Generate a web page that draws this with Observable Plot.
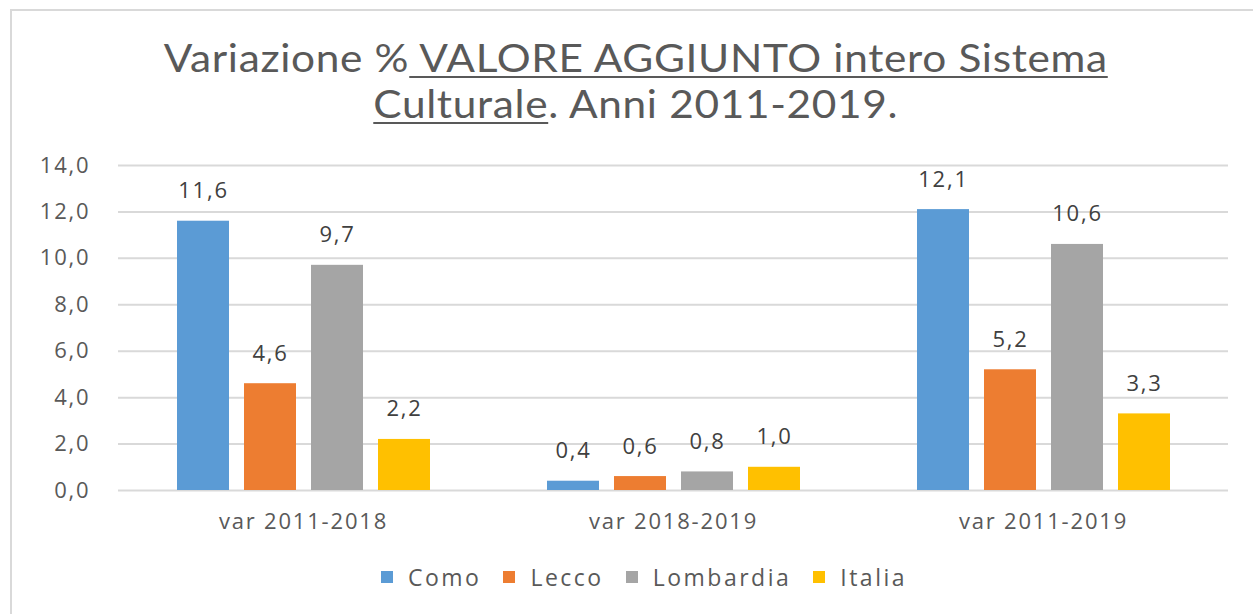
<!DOCTYPE html>
<html>
<head>
<meta charset="utf-8">
<script src="https://cdn.jsdelivr.net/npm/d3@7"></script>
<script src="https://cdn.jsdelivr.net/npm/@observablehq/plot@0.6"></script>
<style>
  html, body { margin: 0; padding: 0; background: #fff; }
  #frame { position: relative; width: 1253px; height: 614px; overflow: hidden; background: #fff; }
  #border { position: absolute; left: 10px; top: 9px; right: 0; bottom: 0; border-left: 2px solid #d9d9d9; border-top: 2px solid #d9d9d9; }
  #title { position: absolute; left: 11px; width: 1250px; top: 34px; text-align: center; font-family: Lato, "Open Sans", sans-serif; font-size: 38px; letter-spacing: 0.6px; color: #595959; transform: scaleX(1.115); transform-origin: 627px 0; }
  #title div { height: 46px; line-height: 46px; white-space: nowrap; }
  #title u { text-decoration-thickness: 2px; text-underline-offset: 4px; }
  #chart { position: absolute; left: 0; top: 140px; }
  #legend { position: absolute; left: 11px; width: 1266px; top: 561px; display: flex; justify-content: center; font-family: "Open Sans", sans-serif; font-size: 23px; letter-spacing: 2.5px; color: #595959; }
  #legend .item { display: flex; align-items: center; margin: 0 11px; }
  #legend .sw { width: 12px; height: 12px; margin-right: 15px; }
</style>
</head>
<body>
<div id="frame">
  <div id="border"></div>
  <div id="title"><div>Variazione %<u> VALORE AGGIUNTO intero Sistema</u></div><div><u>Culturale</u>. Anni 2011-2019.</div></div>
  <div id="chart"></div>
  <div id="legend"></div>
</div>
<script>
const categories = ["var 2011-2018", "var 2018-2019", "var 2011-2019"];
const series = ["Como", "Lecco", "Lombardia", "Italia"];
const como = [11.6, 0.4, 12.1];
const lecco = [4.6, 0.6, 5.2];
const lombardia = [9.7, 0.8, 10.6];
const italia = [2.2, 1.0, 3.3];
const colors = ["#5b9bd5", "#ed7d31", "#a5a5a5", "#ffc000"];
const yTicks = [0, 2, 4, 6, 8, 10, 12, 14];

const valuesBySeries = [como, lecco, lombardia, italia];
const data = [];
categories.forEach((c, i) => {
  series.forEach((s, j) => {
    data.push({category: c, series: s, value: valuesBySeries[j][i]});
  });
});

const fmt = v => d3.format(".1f")(v).replace(".", ",");

const chart = Plot.plot({
  width: 1253,
  height: 410,
  marginLeft: 118,
  marginRight: 25,
  marginTop: 25,
  marginBottom: 60,
  style: { fontFamily: "Open Sans, sans-serif", fontSize: "22px", color: "#595959", background: "transparent", letterSpacing: "1.8px" },
  fx: { domain: categories, padding: 0, label: null, axis: "bottom", tickSize: 0, tickPadding: 23 },
  x: { domain: series, axis: null, paddingInner: 0.224, paddingOuter: 0.873 },
  y: { domain: [0, 14], ticks: yTicks, tickFormat: fmt, tickSize: 0, tickPadding: 28, label: null },
  color: { domain: series, range: colors },
  marks: [
    Plot.gridY(yTicks, { stroke: "#d9d9d9", strokeOpacity: 1, strokeWidth: 2 }),
    Plot.barY(data, { fx: "category", x: "series", y: "value", fill: "series" }),
    Plot.text(data, { fx: "category", x: "series", y: "value", text: d => fmt(d.value), dy: -30, fill: "#404040", fontSize: 22 })
  ]
});
document.getElementById("chart").appendChild(chart);

const legend = document.getElementById("legend");
series.forEach((s, i) => {
  const item = document.createElement("div");
  item.className = "item";
  const sw = document.createElement("span");
  sw.className = "sw";
  sw.style.background = colors[i];
  const lab = document.createElement("span");
  lab.textContent = s;
  item.appendChild(sw);
  item.appendChild(lab);
  legend.appendChild(item);
});
</script>
</body>
</html>
